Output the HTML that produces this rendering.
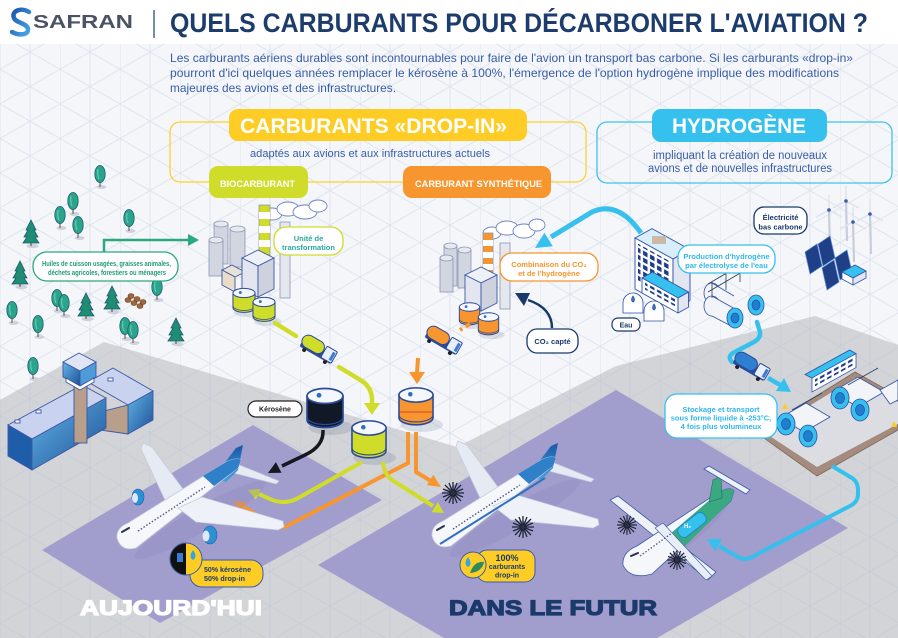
<!DOCTYPE html>
<html><head><meta charset="utf-8">
<style>
html,body{margin:0;padding:0;width:898px;height:638px;overflow:hidden;background:#f4f6f9}
svg{display:block}
text{font-family:"Liberation Sans",Arial,sans-serif}
</style></head><body>
<svg xmlns="http://www.w3.org/2000/svg" width="898" height="638" viewBox="0 0 898 638" overflow="hidden">
<defs>
<pattern id="gw" width="60" height="34.64" patternUnits="userSpaceOnUse"><path d="M0 0L60 34.64M0 34.64L60 0M0 0V34.64M30 0V34.64" stroke="#dbe2ed" stroke-width="0.8" fill="none"/></pattern>
<pattern id="gg" width="60" height="34.64" patternUnits="userSpaceOnUse"><path d="M0 0L60 34.64M0 34.64L60 0M0 0V34.64M30 0V34.64" stroke="#c5ccd8" stroke-width="0.8" fill="none"/></pattern>
<pattern id="win" width="7" height="7" patternUnits="userSpaceOnUse"><rect x="1" y="1" width="4.5" height="4.5" fill="#1f3c8c"/></pattern>
<linearGradient id="glass" x1="0" y1="0" x2="1" y2="1"><stop offset="0" stop-color="#63b6e8"/><stop offset="1" stop-color="#1d4f95"/></linearGradient>
<linearGradient id="tailg" x1="0" y1="0" x2="0" y2="1"><stop offset="0" stop-color="#1b58a8"/><stop offset="1" stop-color="#3ea3de"/></linearGradient>
<linearGradient id="sg" x1="0" y1="0" x2="1" y2="1"><stop offset="0" stop-color="#1a56b0"/><stop offset="1" stop-color="#49a8e6"/></linearGradient>
<g id="tr"><ellipse cx="1.5" cy="0" rx="5" ry="2" fill="#cdd3de"/><rect x="-0.7" y="-6" width="1.4" height="6" fill="#8a7766"/><ellipse cx="0" cy="-13" rx="5.2" ry="8.5" fill="#2aa58c" stroke="#1e5a6e" stroke-width="0.8"/><path d="M-2 -18 Q-3 -12 -1 -8" stroke="#62cbb0" stroke-width="1.2" fill="none"/></g>
<g id="pn"><ellipse cx="1.5" cy="0" rx="6" ry="2.2" fill="#cdd3de"/><rect x="-0.8" y="-5" width="1.6" height="5" fill="#8a7766"/><path d="M0 -26 L-5 -16 L-3 -16 L-7 -9 L-4 -9 L-8 -3 L8 -3 L4 -9 L7 -9 L3 -16 L5 -16 Z" fill="#1f8d74" stroke="#1e5a6e" stroke-width="0.8"/></g>
<g id="tank"><ellipse cx="4" cy="21" rx="15" ry="5" fill="#1b2a5a" opacity=".12"/><path d="M-12 0 V16 A12 5 0 0 0 12 16 V0 Z" stroke="#2b4a9a" stroke-width="1.1"/><path d="M-12 14 A12 5 0 0 0 12 14" fill="none" stroke="#2b4a9a" stroke-width="0.8"/><ellipse cx="0" cy="0" rx="12" ry="5" fill="#f4f7fc" stroke="#2b4a9a" stroke-width="1.1"/><circle cx="-4" cy="-0.5" r="1.6" fill="#2b6cc4"/></g>
<g id="fan" stroke="#1f2536" stroke-width="1.3"><path d="M0 -11V11M-11 0H11M-8 -8L8 8M-8 8L8 -8M-4 -10L4 10M-10 -4L10 4M-4 10L4 -10M-10 4L10 -4"/><circle r="3" fill="#2a3042"/></g>
<g id="trk"><g transform="rotate(30)"><rect x="-18" y="-2" width="36" height="8" rx="2" fill="#2d4b9b"/><rect x="-19" y="-9" width="24" height="13" rx="6.5" stroke="#2b4a9a" stroke-width="1"/><rect x="6" y="-8" width="12" height="13" rx="1.5" fill="#e9eef8" stroke="#2b4a9a" stroke-width="1"/><rect x="14" y="-6" width="3" height="9" fill="#3a7bd5"/><circle cx="-12" cy="7" r="2" fill="#222"/><circle cx="12" cy="7" r="2" fill="#222"/></g></g>
<g id="turb"><line x1="0" y1="0" x2="1" y2="40" stroke="#c7cedb" stroke-width="2.2"/><g stroke="#dfe4ee" stroke-width="1.6"><line x1="0" y1="0" x2="0" y2="-15"/><line x1="0" y1="0" x2="13" y2="7"/><line x1="0" y1="0" x2="-13" y2="7"/></g><circle r="1.8" fill="#3a5ca8"/></g>
<g id="plane">
 <polygon points="165,500 183,489 152,447 143,443 141,449" fill="#e6ebf3" stroke="#c2cadc" stroke-width="0.7"/>
 <polygon points="222,470 276,484 279,481 232,462" fill="#e6ebf3" stroke="#c2cadc" stroke-width="0.7"/>
 <polygon points="213,478 236,448 243,445 238,470 226,482" fill="url(#tailg)"/>
 <path d="M117,538 Q116,528 128,523 L226,462 Q236,457 241,460 L238,468 L136,548 Q121,552 117,538 Z" fill="#f5f7fb" stroke="#c2cadc" stroke-width="0.8"/>
 <path d="M203,476 L226,462 Q236,457 241,460 L238,468 L214,486 Z" fill="#2f80c8"/>
 <polygon points="178,508 202,497 283,521 284,527 278,530 196,522" fill="#eef2f8" stroke="#c2cadc" stroke-width="0.7"/>
 <line x1="138" y1="531" x2="205" y2="487" stroke="#4a5a80" stroke-width="1.4" stroke-dasharray="1.5 1.8"/>
 <path d="M122,532 L129,528" stroke="#2a3350" stroke-width="2" stroke-linecap="round"/>
</g>
</defs>

<!-- background -->
<rect width="898" height="638" fill="#f4f6f9"/>
<rect y="44" width="898" height="594" fill="url(#gw)"/>
<rect width="898" height="44" fill="#ffffff"/>
<polygon points="0,400 104,342 457,447 616,366 815,316 898,345 898,638 0,638" fill="#d3d4d7"/>
<polygon points="0,400 104,342 457,447 616,366 815,316 898,345 898,638 0,638" fill="url(#gg)"/>
<polygon points="253,425 382,500 160,623 42,550" fill="#a19dcc"/>
<polygon points="616,390 848,528 657,638 444,638 318,565" fill="#a19dcc"/>

<!-- header -->
<path d="M29 12 C21 7 11 11 14 18 C16 23 27 23 28 29 C29 35 19 36 12 32" fill="none" stroke="url(#sg)" stroke-width="4.5" stroke-linecap="round"/>
<text x="33" y="28" font-size="18" font-weight="bold" fill="#4a5264" textLength="100" lengthAdjust="spacingAndGlyphs">SAFRAN</text>
<line x1="154" y1="10" x2="154" y2="38" stroke="#1d3c6e" stroke-width="1.2"/>
<text x="170" y="32" font-size="27" font-weight="bold" fill="#1d3c6e" textLength="698" lengthAdjust="spacingAndGlyphs">QUELS CARBURANTS POUR DÉCARBONER L'AVIATION ?</text>
<g font-size="12" fill="#3a5ca8">
<text x="170" y="62" textLength="683" lengthAdjust="spacingAndGlyphs">Les carburants aériens durables sont incontournables pour faire de l'avion un transport bas carbone. Si les carburants «drop-in»</text>
<text x="170" y="77" textLength="669" lengthAdjust="spacingAndGlyphs">pourront d'ici quelques années remplacer le kérosène à 100%, l'émergence de l'option hydrogène implique des modifications</text>
<text x="170" y="92" textLength="226" lengthAdjust="spacingAndGlyphs">majeures des avions et des infrastructures.</text>
</g>

<!-- drop-in box -->
<rect x="170" y="122" width="416" height="60" rx="10" fill="none" stroke="#fcd12a" stroke-width="1.3"/>
<rect x="229" y="109" width="298" height="32" rx="9" fill="#fdcd25"/>
<text x="240" y="133" font-size="21" font-weight="bold" fill="#fff" textLength="267" lengthAdjust="spacingAndGlyphs">CARBURANTS «DROP-IN»</text>
<text x="250" y="157" font-size="11" fill="#3a5ca8" textLength="240" lengthAdjust="spacingAndGlyphs">adaptés aux avions et aux infrastructures actuels</text>
<rect x="209" y="166" width="99" height="32" rx="9" fill="#cfdc2a"/>
<text x="220" y="187" font-size="9.5" font-weight="bold" fill="#fff" textLength="75" lengthAdjust="spacingAndGlyphs">BIOCARBURANT</text>
<rect x="403" y="166" width="148" height="32" rx="9" fill="#f7952e"/>
<text x="415" y="187" font-size="9.5" font-weight="bold" fill="#fff" textLength="127" lengthAdjust="spacingAndGlyphs">CARBURANT SYNTHÉTIQUE</text>

<!-- hydrogen box -->
<rect x="597" y="122" width="295" height="61" rx="10" fill="none" stroke="#3ec2ef" stroke-width="1.3"/>
<rect x="652" y="109" width="175" height="33" rx="9" fill="#36c0ee"/>
<text x="672" y="133" font-size="21" font-weight="bold" fill="#fff" textLength="134" lengthAdjust="spacingAndGlyphs">HYDROGÈNE</text>
<text x="653" y="159" font-size="11.5" fill="#3a5ca8" textLength="174" lengthAdjust="spacingAndGlyphs">impliquant la création de nouveaux</text>
<text x="648" y="172" font-size="11.5" fill="#3a5ca8" textLength="184" lengthAdjust="spacingAndGlyphs">avions et de nouvelles infrastructures</text>

<!-- trees -->
<use href="#tr" x="100" y="187"/><use href="#tr" x="73" y="214"/><use href="#tr" x="60" y="228"/><use href="#tr" x="78" y="238"/>
<use href="#tr" x="129" y="231"/><use href="#tr" x="57" y="311"/><use href="#tr" x="64" y="316"/><use href="#tr" x="157" y="300"/>
<use href="#tr" x="12" y="323"/><use href="#tr" x="38" y="337"/><use href="#tr" x="125" y="339"/><use href="#tr" x="133" y="343"/>
<use href="#tr" x="33" y="379"/>
<use href="#pn" x="31" y="246"/><use href="#pn" x="20" y="287"/><use href="#pn" x="86" y="319"/><use href="#pn" x="112" y="312"/><use href="#pn" x="176" y="344"/>
<g fill="#a0673a" stroke="#6b3f22" stroke-width="0.6">
<ellipse cx="128" cy="300" rx="3" ry="2.5"/><ellipse cx="134" cy="303" rx="3" ry="2.5"/><ellipse cx="140" cy="306" rx="3" ry="2.5"/>
<ellipse cx="131" cy="296" rx="3" ry="2.5"/><ellipse cx="137" cy="299" rx="3" ry="2.5"/><ellipse cx="143" cy="302" rx="3" ry="2.5"/></g>

<!-- Huiles label + arrow -->
<polyline points="104,252 104,240 190,240" fill="none" stroke="#2aa87e" stroke-width="2.5"/>
<polygon points="188,234 199,240 188,246" fill="#2aa87e"/>
<rect x="33" y="252" width="145" height="29" rx="14" fill="#fff" stroke="#2aa87e" stroke-width="1.3"/>
<text x="42" y="266" font-size="7.5" font-weight="bold" fill="#1f9a78" textLength="129" lengthAdjust="spacingAndGlyphs">Huiles de cuisson usagées, graisses animales,</text>
<text x="48" y="275" font-size="7.5" font-weight="bold" fill="#1f9a78" textLength="118" lengthAdjust="spacingAndGlyphs">déchets agricoles, forestiers ou ménagers</text>

<!-- Bio factory -->
<g stroke="#6d82c2" stroke-width="0.9" fill="#fff">
<ellipse cx="272" cy="214" rx="10" ry="6"/><ellipse cx="288" cy="209" rx="11" ry="7"/><ellipse cx="305" cy="212" rx="12" ry="7"/><ellipse cx="318" cy="206" rx="9" ry="6"/></g>
<g stroke="#8d97b5" stroke-width="0.8" fill="#d2d6e0">
<rect x="214" y="224" width="14" height="40"/><ellipse cx="221" cy="224" rx="7" ry="3" fill="#e6e9f0"/>
<rect x="230" y="229" width="15" height="38"/><ellipse cx="237.5" cy="229" rx="7.5" ry="3" fill="#e6e9f0"/>
<rect x="209" y="240" width="14" height="36"/><ellipse cx="216" cy="240" rx="7" ry="3" fill="#e6e9f0"/>
</g>
<rect x="259" y="205" width="11" height="70" fill="#cfdc2a" stroke="#8d97b5" stroke-width="0.8"/>
<g fill="#fff"><rect x="259" y="212" width="11" height="7"/><rect x="259" y="226" width="11" height="7"/><rect x="259" y="240" width="11" height="7"/></g>
<rect x="280" y="222" width="10" height="76" fill="#e4e7ee" stroke="#8d97b5" stroke-width="0.8"/>
<g stroke="#3b57a5" stroke-width="0.9">
<polygon points="222,270 232,265 245,272 235,277" fill="#e7e2d8"/>
<polygon points="222,270 235,277 235,292 222,285" fill="#e9ddc9"/>
<polygon points="242,258 258,250 274,258 258,266" fill="#eef1f7"/>
<polygon points="242,258 258,266 258,297 242,289" fill="#e3e6ee"/>
<polygon points="258,266 274,258 274,289 258,297" fill="#cdd2de"/>
</g>
<use href="#tank" transform="translate(244,293) scale(0.92)" fill="#cfdc2a"/>
<use href="#tank" transform="translate(264,302) scale(0.92)" fill="#cfdc2a"/>
<rect x="274" y="227" width="69" height="28" rx="12" fill="#fff" stroke="#cfdc2a" stroke-width="1.3"/>
<text x="308.5" y="241" font-size="7.5" font-weight="bold" fill="#2aa8a0" text-anchor="middle">Unité de</text>
<text x="308.5" y="250" font-size="7.5" font-weight="bold" fill="#2aa8a0" text-anchor="middle">transformation</text>

<!-- Synthetic factory -->
<g stroke="#6d82c2" stroke-width="0.9" fill="#fff">
<ellipse cx="492" cy="233" rx="9" ry="6"/><ellipse cx="507" cy="228" rx="11" ry="7"/><ellipse cx="524" cy="231" rx="11" ry="7"/><ellipse cx="537" cy="225" rx="8" ry="6"/></g>
<g stroke="#8d97b5" stroke-width="0.8" fill="#d2d6e0">
<rect x="444" y="246" width="13" height="40"/><ellipse cx="450.5" cy="246" rx="6.5" ry="3" fill="#e6e9f0"/>
<rect x="458" y="250" width="13" height="38"/><ellipse cx="464.5" cy="250" rx="6.5" ry="3" fill="#e6e9f0"/>
<rect x="440" y="258" width="13" height="34"/><ellipse cx="446.5" cy="258" rx="6.5" ry="3" fill="#e6e9f0"/>
</g>
<rect x="483" y="233" width="10" height="55" fill="#f7952e" stroke="#8d97b5" stroke-width="0.8"/>
<g fill="#fff"><rect x="483" y="240" width="10" height="6"/><rect x="483" y="252" width="10" height="6"/><rect x="483" y="264" width="10" height="6"/></g>
<rect x="500" y="243" width="10" height="66" fill="#e4e7ee" stroke="#8d97b5" stroke-width="0.8"/>
<g stroke="#3b57a5" stroke-width="0.9">
<polygon points="465,275 481,267 497,275 481,283" fill="#eef1f7"/>
<polygon points="465,275 481,283 481,311 465,303" fill="#e3e6ee"/>
<polygon points="481,283 497,275 497,303 481,311" fill="#cdd2de"/>
</g>
<use href="#tank" transform="translate(469.5,307) scale(0.85)" fill="#f7952e"/>
<use href="#tank" transform="translate(488.5,317) scale(0.85)" fill="#f7952e"/>
<rect x="500" y="253" width="98" height="28" rx="12" fill="#fff" stroke="#f7952e" stroke-width="1.3"/>
<text x="549" y="267" font-size="7.5" font-weight="bold" fill="#f7952e" text-anchor="middle">Combinaison du CO₂</text>
<text x="549" y="276" font-size="7.5" font-weight="bold" fill="#f7952e" text-anchor="middle">et de l'hydrogène</text>

<!-- CO2 capté -->
<path d="M552,328 Q552,308 528,300" fill="none" stroke="#1b3a6b" stroke-width="2.5"/>
<polygon points="515,293 530,293 524,306" fill="#1b3a6b"/>
<rect x="527" y="329" width="51" height="24" rx="10" fill="#fff" stroke="#1b3a6b" stroke-width="1.3"/>
<text x="552.5" y="344" font-size="7.5" font-weight="bold" fill="#1b3a6b" text-anchor="middle">CO₂ capté</text>

<!-- hydrogen -> combinaison arrow -->
<path d="M641,233 Q618,200 592,212 L551,237" fill="none" stroke="#36c0ee" stroke-width="5"/>
<polygon points="535,248 552.8,246.3 544.4,232.7" fill="#36c0ee"/>

<!-- Hydrogen plant -->
<g stroke="#3050a8" stroke-width="0.9">
<polygon points="635,238 652,228.6 690,249.6 673,259" fill="#d8eefa"/>
<rect x="652" y="236" width="14" height="8" fill="#c9b9a6" stroke="none"/>
<g transform="translate(635,238) skewY(29)"><rect width="38" height="51" fill="#fff"/><rect x="3" y="4" width="32" height="38" fill="url(#win)" stroke="none"/></g>
<g transform="translate(673,259) skewY(-29)"><rect width="17" height="51" fill="#e2e6f0"/></g>
<polygon points="642,278 678,298 688.5,292 652.5,272" fill="#36c0ee"/>
<g transform="translate(642,278) skewY(29)"><rect width="36" height="15" fill="#fff"/><rect x="3" y="3" width="30" height="7" fill="url(#win)" stroke="none"/></g>
<g transform="translate(678,298) skewY(-29)"><rect width="10.5" height="15" fill="#e2e6f0"/></g>
</g>
<g stroke="#3050a8" stroke-width="0.8">
<path d="M623,313 V303 A10 10 0 0 1 643,303 V313 Z" fill="#fff"/><path d="M644,321 V311 A10 10 0 0 1 664,311 V321 Z" fill="#fff"/>
<path d="M633,296 q-3,4 0,6 q3,-2 0,-6Z" fill="#2f7fd0"/><path d="M654,304 q-3,4 0,6 q3,-2 0,-6Z" fill="#2f7fd0"/></g>
<rect x="612" y="318" width="28" height="13" rx="6" fill="#fff" stroke="#1b3a6b" stroke-width="1.2"/>
<text x="626" y="327.5" font-size="7" font-weight="bold" fill="#1b3a6b" text-anchor="middle">Eau</text>
<!-- H2 cylinders near plant -->
<g stroke="#3050a8" stroke-width="0.8">
<ellipse cx="712" cy="293" rx="8" ry="10" fill="#f2f4f8"/>
<polygon points="712,283 734,296 734,316 712,303" fill="#f2f4f8" stroke="none"/>
<path d="M712,283 L734,296 M712,303 L734,316" fill="none"/>
<ellipse cx="756" cy="305" rx="8" ry="10" fill="#36c0ee"/><ellipse cx="756" cy="305" rx="4" ry="5" fill="#1e7fcf"/>
<ellipse cx="712" cy="306" rx="8" ry="10" fill="#f2f4f8"/>
<polygon points="712,296 735,309 735,328 712,316" fill="#f2f4f8" stroke="none"/>
<path d="M712,296 L735,309 M712,316 L735,328" fill="none"/>
<ellipse cx="735" cy="318" rx="8" ry="10" fill="#36c0ee"/><ellipse cx="735" cy="318" rx="4" ry="5" fill="#1e7fcf"/>
<path d="M708,292 L742,272 M708,284 L742,264 M712,282 V298 M726,274 V290 M740,266 V282" stroke="#2a3b55" fill="none"/>
</g>
<rect x="678" y="245" width="97" height="28" rx="12" fill="#fff" stroke="#36c0ee" stroke-width="1.3"/>
<text x="726.5" y="259" font-size="7.5" font-weight="bold" fill="#2fb8ea" text-anchor="middle">Production d'hydrogène</text>
<text x="726.5" y="268" font-size="7.5" font-weight="bold" fill="#2fb8ea" text-anchor="middle">par électrolyse de l'eau</text>

<!-- renewables -->
<use href="#turb" x="829" y="210"/><use href="#turb" x="846" y="201"/><use href="#turb" x="853" y="222"/><use href="#turb" x="870" y="214"/>
<g fill="#1f3f86" stroke="#5d8fd6" stroke-width="0.7">
<polygon points="805,252 817,244 822,266 810,274"/><polygon points="818,244 830,236 835,258 823,266"/>
<polygon points="822,268 834,260 839,282 827,290"/><polygon points="835,258 847,250 852,272 840,280"/></g>
<g stroke="#3050a8" stroke-width="0.8"><polygon points="842,272 855,265 866,271 853,278" fill="#36c0ee"/><polygon points="842,272 853,278 853,285 842,279" fill="#fff"/><polygon points="853,278 866,271 866,278 853,285" fill="#e2e6f0"/></g>
<rect x="754" y="207" width="53" height="27" rx="10" fill="#fff" stroke="#1b3a6b" stroke-width="1.3"/>
<text x="780.5" y="220" font-size="7.5" font-weight="bold" fill="#1b3a6b" text-anchor="middle">Électricité</text>
<text x="780.5" y="229.5" font-size="7.5" font-weight="bold" fill="#1b3a6b" text-anchor="middle">bas carbone</text>

<!-- H2 path to storage -->
<path d="M757,322 L760,332 Q761,338 754,342 L733,353 Q727,357 732,362" fill="none" stroke="#36c0ee" stroke-width="4.5" stroke-linecap="round"/>
<use href="#trk" transform="translate(751,367)" fill="#2f7fd0"/>
<line x1="768" y1="378" x2="782" y2="386" stroke="#36c0ee" stroke-width="4.5"/>
<polygon points="791,392 776,391 784,378" fill="#36c0ee"/>

<!-- storage facility -->
<polygon points="757,433 855,372 898,396 898,430 817,476" fill="#a48b7d" stroke="#7e675a" stroke-width="0.8"/>
<polygon points="765,433 855,378 898,402 898,424 817,467" fill="#dcdde2"/>
<g stroke="#3050a8" stroke-width="0.8">
<polygon points="805,374.5 849.7,350 856,353.6 812,378" fill="#36c0ee"/>
<g transform="translate(812,378) skewY(-29)"><rect width="44" height="14" fill="#fff"/><rect x="3" y="3" width="38" height="7" fill="url(#win)" stroke="none"/></g>
<polygon points="832,392 858,377 884,392 858,407" fill="#f2f4f8"/>
<polygon points="880,390 898,380 898,400 890,404" fill="#f2f4f8"/>
<ellipse cx="840" cy="398" rx="9" ry="11" fill="#36c0ee"/><ellipse cx="840" cy="398" rx="4.5" ry="5.5" fill="#1e7fcf"/>
<ellipse cx="860" cy="410" rx="9" ry="11" fill="#36c0ee"/><ellipse cx="860" cy="410" rx="4.5" ry="5.5" fill="#1e7fcf"/>
<polygon points="780,418 806,403 830,417 804,432" fill="#f2f4f8"/>
<ellipse cx="786" cy="424" rx="9" ry="11" fill="#36c0ee"/><ellipse cx="786" cy="424" rx="4.5" ry="5.5" fill="#1e7fcf"/>
<ellipse cx="808" cy="436" rx="9" ry="11" fill="#36c0ee"/><ellipse cx="808" cy="436" rx="4.5" ry="5.5" fill="#1e7fcf"/>
<path d="M792,410 L822,393 M848,385 L878,368" stroke="#2a3b55" fill="none"/>
</g>
<g fill="#fdcd25"><polygon points="785,403 788,409 782,409"/><polygon points="894,421 897,427 891,427"/></g>
<rect x="665" y="394" width="112" height="44" rx="12" fill="#fff" stroke="#36c0ee" stroke-width="1.3"/>
<text x="721" y="412" font-size="7.5" font-weight="bold" fill="#2fb8ea" text-anchor="middle">Stockage et transport</text>
<text x="721" y="420.5" font-size="7.5" font-weight="bold" fill="#2fb8ea" text-anchor="middle">sous forme liquide à -253°C,</text>
<text x="721" y="429" font-size="7.5" font-weight="bold" fill="#2fb8ea" text-anchor="middle">4 fois plus volumineux</text>

<!-- storage -> H2 plane -->
<path d="M832,466 L852,478 Q858,482 858,490 L858,494 Q858,502 850,506 L752,557 Q745,561 738,557 L719,546" fill="none" stroke="#36c0ee" stroke-width="4"/>
<polygon points="707,539 722,539 715,551" fill="#36c0ee"/>

<!-- airport -->
<g stroke="#3b57a5" stroke-width="0.9">
<polygon points="88,382 113,368 153,391 128,405" fill="#c9d2ee"/>
<polygon points="128,405 153,391 153,420 128,434" fill="url(#glass)"/>
<polygon points="100,412 128,405 128,434 100,430" fill="#b79f8c"/>
<polygon points="8,425 82,385 106,398 32,439" fill="#c9d2ee"/>
<polygon points="8,425 32,439 32,470 8,456" fill="#1e5ea8"/>
<polygon points="32,439 106,398 106,428 32,470" fill="url(#glass)"/>
<rect x="15" y="420" width="5" height="3" fill="#fff"/><rect x="36" y="410" width="5" height="3" fill="#fff"/><rect x="108" y="378" width="5" height="3" fill="#fff"/>
<rect x="74" y="380" width="13" height="63" fill="#b79f8c"/>
<polygon points="63,362 79,353 96,362 80,371" fill="#dfe5f5"/>
<polygon points="63,362 80,371 80,386 63,377" fill="url(#glass)"/>
<polygon points="80,371 96,362 96,377 80,386" fill="#4f9ad8"/>
<polygon points="66,378 80,386 94,378 94,382 80,390 66,382" fill="#fff"/>
</g>

<!-- tanks -->
<use href="#tank" transform="translate(325,396) scale(1.5)" fill="#111827"/>
<use href="#tank" transform="translate(369,428) scale(1.42)" fill="#cfdc2a"/>
<use href="#tank" transform="translate(416,395) scale(1.42)" fill="#f7952e"/>
<line x1="400" y1="412" x2="432" y2="412" stroke="#e0412f" stroke-width="1"/>
<rect x="248" y="401" width="54" height="16" rx="8" fill="#fff" stroke="#222" stroke-width="1.2"/>
<text x="275" y="411.5" font-size="7" font-weight="bold" fill="#222" text-anchor="middle">Kérosène</text>

<!-- lime path & truck -->
<line x1="275" y1="323" x2="296" y2="336" stroke="#cfdc2a" stroke-width="4.5" stroke-linecap="round"/>
<use href="#trk" transform="translate(318,350)" fill="#cfdc2a"/>
<path d="M339,367 L362,381 Q372,388 372,400 L372,404" fill="none" stroke="#cfdc2a" stroke-width="4.5" stroke-linecap="round"/>
<polygon points="364,403 380,403 372,415" fill="#cfdc2a"/>
<!-- orange path & truck -->
<line x1="470" y1="324" x2="460" y2="330" stroke="#f7952e" stroke-width="4" stroke-dasharray="5 4"/>
<use href="#trk" transform="translate(443,341)" fill="#f7952e"/>
<line x1="418" y1="358" x2="417" y2="373" stroke="#f7952e" stroke-width="4"/>
<polygon points="409,372 425,372 417,384" fill="#f7952e"/>

<!-- connectors to planes -->
<path d="M323,430 Q324,446 305,455 L282,466" fill="none" stroke="#15181f" stroke-width="3.5"/>
<polygon points="268,473 281.5,472.8 275.9,462.1" fill="#15181f"/>
<path d="M362,462 L300,497 Q285,506 270,499 L259,494" fill="none" stroke="#cfdc2a" stroke-width="4"/>
<polygon points="248,490 260.5,488.7 255.9,499.7" fill="#cfdc2a"/>
<polyline points="408,432 408,463 283,528" fill="none" stroke="#f7952e" stroke-width="4"/>
<line x1="268" y1="522" x2="244" y2="507" stroke="#f7952e" stroke-width="4"/>
<polygon points="233,501 246.4,502.1 240.2,512.3" fill="#f7952e"/>
<polyline points="416,432 416,472 431,481" fill="none" stroke="#f7952e" stroke-width="4"/>
<polygon points="441,487 426.8,485.1 433.2,474.9" fill="#f7952e"/>
<path d="M383,462 Q384,474 392,480 L433,506" fill="none" stroke="#cfdc2a" stroke-width="4"/>
<polygon points="444,513 431.5,512.3 437.9,502.1" fill="#cfdc2a"/>

<!-- plane A -->
<ellipse cx="200" cy="520" rx="75" ry="12" transform="rotate(-30 200 520)" fill="#8d89bd" opacity=".35"/>
<use href="#plane"/>
<ellipse cx="138" cy="497" rx="6" ry="8" fill="#2f8fd4" stroke="#1d5fa8" stroke-width="0.6"/><ellipse cx="135" cy="498" rx="3" ry="5" fill="#dfe8f5"/>
<ellipse cx="210" cy="535" rx="7" ry="9" fill="#2f8fd4" stroke="#1d5fa8" stroke-width="0.6"/><ellipse cx="206" cy="536" rx="3.5" ry="5.5" fill="#dfe8f5"/>

<!-- plane B -->
<ellipse cx="515" cy="518" rx="75" ry="12" transform="rotate(-30 515 518)" fill="#8d89bd" opacity=".35"/>
<use href="#plane" transform="translate(315,-2)"/>
<path d="M440,544 L545,478" stroke="#2f6fc0" stroke-width="2"/>
<use href="#fan" x="453" y="493"/>
<use href="#fan" x="523" y="527"/>

<!-- plane C (hydrogen) -->
<ellipse cx="680" cy="540" rx="60" ry="10" transform="rotate(-38 680 540)" fill="#8d89bd" opacity=".3"/>
<polygon points="610,500 618,496 716,572 708,580" fill="#eef2f8" stroke="#3a5ca8" stroke-width="0.8"/>
<path d="M623,565 Q622,552 637,546 L719,492 Q730,486 734,491 L731,501 L652,574 Q630,580 623,565 Z" fill="#f5f7fb" stroke="#3a5ca8" stroke-width="0.8"/>
<path d="M670,534 L719,492 Q730,486 734,491 L731,501 L684,547 Z" fill="#3aa981"/>
<polygon points="709,502 713,480 721,476 722,498" fill="#3aa981" stroke="#2a6b5a" stroke-width="0.6"/>
<polygon points="704,469 709,466 750,490 746,494" fill="#eef2f8" stroke="#3a5ca8" stroke-width="0.8"/>
<g transform="rotate(-38 692 525)"><rect x="676" y="519" width="32" height="12" rx="5" fill="#36c0ee" stroke="#1e7fcf" stroke-width="0.8"/></g>
<text x="684" y="528" font-size="6" font-weight="bold" fill="#fff">H₂</text>
<polygon points="655,528 663,523 712,576 706,580" fill="#e9eef6" stroke="#3a5ca8" stroke-width="0.6"/>
<path d="M631,556 L638,553" stroke="#2a3350" stroke-width="2" stroke-linecap="round"/>
<line x1="640" y1="556" x2="672" y2="533" stroke="#4a5a80" stroke-width="1.3" stroke-dasharray="1.5 1.8"/>
<use href="#fan" transform="translate(627,525) scale(0.9)"/>
<use href="#fan" transform="translate(677,560) scale(0.9)"/>

<!-- badges -->
<rect x="190" y="560" width="73" height="27" rx="12" fill="#fdcd25" stroke="#3a5ca8" stroke-width="1"/>
<path d="M186,543 A16,16 0 0 0 186,575 Z" fill="#111"/>
<path d="M186,543 A16,16 0 0 1 186,575 Z" fill="#fdcd25"/>
<circle cx="186" cy="559" r="16" fill="none" stroke="#3a5ca8" stroke-width="1"/>
<rect x="177" y="553" width="6" height="9" fill="#3a7bd5"/>
<path d="M193,550 q-5,7 0,10 q5,-3 0,-10Z" fill="#36a4e0"/>
<text x="204" y="572" font-size="7.5" font-weight="bold" fill="#1b3a6b" textLength="47" lengthAdjust="spacingAndGlyphs">50% kérosène</text>
<text x="204" y="581" font-size="7.5" font-weight="bold" fill="#1b3a6b" textLength="41" lengthAdjust="spacingAndGlyphs">50% drop-in</text>

<rect x="477" y="550" width="58" height="32" rx="10" fill="#fdcd25" stroke="#3a5ca8" stroke-width="1"/>
<circle cx="473" cy="565" r="13" fill="#fdcd25" stroke="#3a5ca8" stroke-width="1"/>
<path d="M468,557 q-5,7 0,10 q5,-3 0,-10Z" fill="#36a4e0"/>
<path d="M470,573 Q474,561 484,562 Q482,572 470,573Z" fill="#2e8a5a"/>
<text x="507" y="561" font-size="9" font-weight="bold" fill="#1b3a6b" text-anchor="middle">100%</text>
<text x="507" y="569" font-size="7" font-weight="bold" fill="#1b3a6b" text-anchor="middle">carburants</text>
<text x="507" y="577.5" font-size="7" font-weight="bold" fill="#1b3a6b" text-anchor="middle">drop-in</text>

<!-- section titles -->
<text x="80" y="615" font-size="21" font-weight="bold" fill="#fff" stroke="#fff" stroke-width="1.2" textLength="182" lengthAdjust="spacingAndGlyphs">AUJOURD'HUI</text>
<text x="449" y="615" font-size="21" font-weight="bold" fill="#1b3a6b" stroke="#1b3a6b" stroke-width="1.2" textLength="208" lengthAdjust="spacingAndGlyphs">DANS LE FUTUR</text>
</svg>
</body></html>
